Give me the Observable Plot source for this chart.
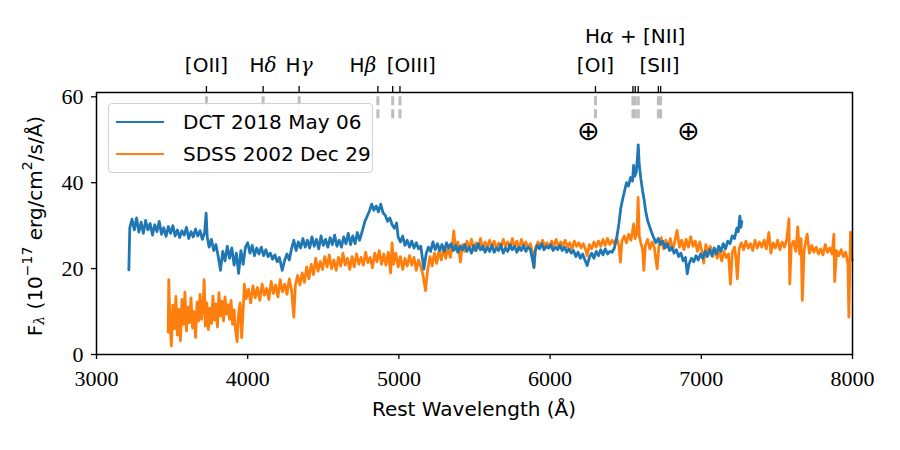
<!DOCTYPE html>
<html>
<head>
<meta charset="utf-8">
<script src="https://cdn.jsdelivr.net/npm/d3@7"></script>
<script src="https://cdn.jsdelivr.net/npm/@observablehq/plot@0.6"></script>
<style>
  html, body { margin: 0; padding: 0; background: #fff; }
  #wrap { position: relative; width: 900px; height: 450px; }
  #legend { position: absolute; left: 108px; top: 103px; width: 263px; height: 68px;
    border: 1px solid #d0d0d0; border-radius: 4px; background: rgba(255,255,255,0.85);
    font-family: "DejaVu Sans", sans-serif; font-size: 20px; color: #000; }
  .entry { position: absolute; left: 0; height: 24px; display: flex; align-items: center; }
  .swatch { width: 48px; height: 2.5px; margin-left: 7px; margin-right: 19px; }
  svg g.serifnums text { font-family: "Liberation Serif", "DejaVu Serif", "Times New Roman", Times, "Noto Serif", serif !important; }
</style>
</head>
<body>
<div id="wrap"></div>
<script>
// ---------- data ----------
const seriesNames = ["DCT 2018 May 06", "SDSS 2002 Dec 29"];
const seriesColors = ["#1f77b4", "#ff7f0e"];

// [rest wavelength (Å), flux (1e-17 erg/cm2/s/Å)]
const dctSpectrum = [
[3214,19.7],[3220,29.5],[3235,31.5],[3250,29.0],[3265,31.8],[3280,28.5],[3295,30.8],[3310,28.2],[3325,31.2],[3340,29.0],
[3355,30.5],[3370,27.8],[3385,30.2],[3400,28.6],[3415,31.0],[3430,28.0],[3445,29.5],[3460,27.5],[3475,29.8],[3490,28.2],
[3505,30.0],[3520,27.6],[3535,29.0],[3550,27.2],[3565,28.8],[3580,27.8],[3595,29.6],[3610,27.0],[3625,28.6],[3640,27.4],
[3655,29.2],[3670,27.6],[3685,28.8],[3700,26.8],[3715,28.4],[3725,32.9],[3732,27.5],[3745,25.0],[3760,26.8],[3775,24.2],
[3790,25.6],[3805,22.8],[3820,19.6],[3835,24.0],[3850,21.8],[3865,25.2],[3880,22.4],[3895,24.8],[3910,20.8],[3925,23.6],
[3940,18.9],[3955,24.2],[3970,21.0],[3985,25.0],[4000,26.0],[4015,23.6],[4030,25.4],[4045,23.0],[4060,24.8],[4075,23.4],
[4090,25.0],[4105,23.0],[4120,24.4],[4135,22.8],[4150,23.6],[4165,22.2],[4180,23.2],[4195,21.6],[4210,22.6],[4228,19.6],
[4245,22.0],[4260,23.4],[4275,22.0],[4290,24.6],[4305,26.6],[4320,24.2],[4335,26.2],[4350,24.8],[4365,27.0],[4380,25.0],
[4395,26.6],[4410,24.8],[4425,27.4],[4440,25.2],[4455,26.8],[4470,24.6],[4485,27.6],[4500,25.4],[4515,26.8],[4530,25.0],
[4545,27.2],[4560,25.6],[4575,27.8],[4590,25.2],[4605,26.6],[4620,25.0],[4635,27.4],[4650,25.8],[4665,28.2],[4680,25.6],
[4695,27.6],[4710,25.8],[4725,28.4],[4740,26.6],[4760,29.0],[4775,31.0],[4790,32.2],[4805,33.4],[4820,35.0],[4835,33.6],
[4850,34.6],[4865,33.2],[4880,35.0],[4895,33.0],[4910,32.4],[4925,31.0],[4940,31.8],[4955,30.2],[4970,29.4],[4985,30.6],
[4995,27.4],[5010,26.2],[5025,27.6],[5040,25.4],[5055,26.6],[5070,25.0],[5085,26.4],[5100,24.8],[5115,26.0],[5130,24.6],
[5145,25.2],[5165,19.9],[5180,23.4],[5195,25.0],[5210,24.0],[5225,26.2],[5240,24.4],[5255,25.8],[5270,24.2],[5285,25.6],
[5300,24.0],[5315,26.0],[5330,24.8],[5345,25.8],[5360,24.2],[5375,25.4],[5390,23.8],[5405,25.2],[5420,24.4],[5435,25.6],
[5450,24.0],[5465,25.0],[5480,23.6],[5495,25.4],[5510,24.2],[5525,25.8],[5540,24.4],[5555,25.2],[5570,23.8],[5585,25.0],
[5600,24.0],[5615,25.4],[5630,23.8],[5645,24.8],[5660,24.2],[5675,25.6],[5690,23.6],[5705,24.8],[5720,24.0],[5735,25.6],
[5750,24.4],[5765,25.2],[5780,23.8],[5795,25.0],[5810,24.2],[5825,25.4],[5840,24.0],[5855,25.0],[5870,24.4],[5885,21.8],
[5893,20.3],[5900,24.0],[5915,25.4],[5930,24.6],[5945,25.8],[5960,24.4],[5975,25.2],[5990,24.8],[6005,25.6],[6020,24.2],
[6035,25.0],[6050,24.4],[6065,25.4],[6080,24.2],[6095,25.0],[6110,23.8],[6125,24.6],[6140,23.6],[6155,24.2],[6170,22.8],
[6185,23.8],[6200,22.4],[6215,23.4],[6230,22.0],[6245,20.7],[6260,22.6],[6275,23.6],[6290,22.4],[6305,24.0],[6320,23.0],
[6335,24.4],[6350,23.2],[6365,24.6],[6380,23.4],[6395,24.0],[6410,23.8],[6425,24.8],[6440,27.0],[6455,30.4],[6467,34.0],
[6480,36.2],[6492,38.0],[6505,40.0],[6518,39.2],[6532,41.2],[6545,40.4],[6552,44.0],[6560,41.5],[6570,42.5],[6578,46.0],
[6583,48.8],[6590,44.0],[6600,41.0],[6612,38.0],[6622,36.0],[6632,33.4],[6645,31.2],[6658,29.8],[6670,28.6],[6685,27.2],
[6700,26.0],[6715,27.0],[6730,25.6],[6745,26.4],[6760,24.8],[6775,25.8],[6790,24.2],[6805,25.0],[6820,23.6],[6835,24.4],
[6850,22.8],[6865,23.6],[6880,21.8],[6895,22.6],[6907,18.8],[6920,21.2],[6935,22.4],[6950,21.6],[6965,23.0],[6980,22.0],
[6995,23.4],[7010,22.4],[7025,24.0],[7040,22.8],[7055,24.4],[7070,23.0],[7085,24.8],[7100,23.4],[7115,25.2],[7130,24.0],
[7145,25.8],[7160,24.6],[7175,26.4],[7190,25.8],[7205,27.6],[7220,27.0],[7235,29.4],[7245,28.6],[7255,32.2],[7262,29.6],
[7268,31.0]
];

const sdssSpectrum = [
[3474,5.2],[3478,17.4],[3485,8.0],[3495,2.0],[3505,11.5],[3515,6.0],[3525,13.5],[3535,4.5],[3545,10.5],[3555,3.2],
[3565,12.8],[3575,7.0],[3585,14.5],[3595,5.5],[3605,11.0],[3615,7.4],[3625,13.2],[3635,6.2],[3645,10.0],[3655,4.0],
[3665,12.2],[3675,7.8],[3685,14.0],[3695,8.2],[3705,11.6],[3712,17.4],[3720,6.6],[3730,12.0],[3740,5.8],[3750,10.8],
[3760,7.2],[3770,13.6],[3780,8.0],[3790,11.8],[3800,6.4],[3810,14.4],[3820,9.0],[3830,12.4],[3840,7.8],[3850,13.4],
[3860,9.4],[3870,11.6],[3880,8.2],[3890,12.6],[3900,7.0],[3910,10.4],[3920,5.6],[3930,3.0],[3940,9.6],[3950,12.0],
[3960,3.9],[3970,10.5],[3978,16.4],[3990,13.0],[4005,15.2],[4020,12.0],[4035,16.0],[4050,13.2],[4065,15.6],[4080,12.6],
[4095,16.4],[4110,13.8],[4125,15.4],[4140,12.8],[4155,17.0],[4170,14.2],[4185,16.2],[4200,13.4],[4215,17.4],[4230,14.6],
[4245,16.4],[4260,14.0],[4275,17.6],[4290,15.0],[4305,8.7],[4315,16.0],[4330,18.4],[4345,16.2],[4360,19.0],[4375,16.8],
[4390,20.4],[4405,17.6],[4420,21.0],[4435,18.6],[4450,22.4],[4465,19.4],[4480,21.6],[4495,19.8],[4510,22.8],[4525,20.4],
[4540,23.2],[4555,20.0],[4570,22.0],[4585,19.6],[4600,22.6],[4615,20.6],[4630,23.6],[4645,20.8],[4660,22.4],[4675,19.8],
[4690,22.8],[4705,20.4],[4720,23.4],[4735,21.0],[4750,22.6],[4765,20.8],[4780,23.8],[4795,21.4],[4810,22.6],[4825,20.2],
[4840,23.6],[4855,21.6],[4870,24.2],[4885,21.0],[4900,23.4],[4915,20.8],[4930,23.8],[4945,19.0],[4955,26.0],[4965,21.0],
[4980,23.6],[4995,20.4],[5010,22.8],[5025,19.8],[5040,22.4],[5055,20.6],[5070,23.0],[5085,20.8],[5100,22.6],[5115,19.6],
[5130,22.0],[5145,20.4],[5160,18.4],[5176,14.9],[5190,19.6],[5205,22.8],[5220,20.6],[5235,23.6],[5250,21.2],[5265,24.2],
[5280,22.0],[5295,24.6],[5310,22.4],[5325,25.0],[5340,22.6],[5355,26.0],[5363,28.8],[5375,24.4],[5390,26.2],[5407,21.5],
[5420,25.6],[5435,24.0],[5450,26.4],[5465,24.6],[5480,26.8],[5495,24.2],[5510,26.0],[5525,24.8],[5540,27.0],[5555,24.4],
[5570,26.2],[5585,24.8],[5600,26.6],[5615,25.0],[5630,26.4],[5645,24.6],[5660,26.0],[5675,24.8],[5690,26.8],[5705,25.2],
[5720,26.2],[5735,24.6],[5750,27.0],[5765,25.0],[5780,26.4],[5795,24.4],[5810,26.8],[5825,25.2],[5840,26.2],[5855,24.8],
[5870,25.8],[5885,23.4],[5893,20.2],[5905,25.0],[5920,26.2],[5935,25.0],[5950,26.6],[5965,25.2],[5980,26.0],[5995,24.8],
[6010,26.4],[6025,25.4],[6040,26.8],[6055,25.0],[6070,26.2],[6085,25.4],[6100,26.6],[6115,25.0],[6130,26.0],[6145,24.6],
[6160,26.4],[6175,25.2],[6190,26.0],[6205,24.8],[6220,25.8],[6235,24.4],[6245,23.0],[6260,25.6],[6275,24.6],[6290,26.2],
[6305,25.0],[6320,26.4],[6335,25.2],[6350,26.8],[6365,25.4],[6380,27.0],[6395,25.6],[6410,26.6],[6425,25.8],[6440,27.2],
[6455,25.4],[6465,21.5],[6475,26.4],[6490,27.6],[6505,26.0],[6520,28.0],[6535,26.6],[6553,30.4],[6562,27.0],[6575,28.4],
[6582,36.6],[6590,27.6],[6600,26.0],[6612,24.4],[6620,19.6],[6630,25.4],[6645,26.8],[6660,24.6],[6675,26.2],[6690,24.8],
[6700,22.0],[6708,20.0],[6720,25.4],[6735,27.2],[6750,24.6],[6765,26.6],[6780,25.0],[6795,27.0],[6810,24.2],[6825,26.4],
[6840,28.9],[6855,25.0],[6870,26.6],[6885,24.4],[6900,26.8],[6915,25.0],[6930,27.4],[6945,25.2],[6960,26.4],[6975,24.0],
[6990,26.2],[7005,23.8],[7016,21.3],[7030,25.6],[7045,23.8],[7060,25.2],[7075,22.8],[7090,24.6],[7105,22.4],[7120,24.2],
[7135,21.8],[7150,24.0],[7165,22.6],[7180,23.4],[7193,16.4],[7205,23.8],[7220,25.0],[7230,22.0],[7238,17.6],[7250,24.6],
[7265,26.0],[7280,24.4],[7295,26.4],[7310,24.8],[7325,25.8],[7340,24.2],[7355,26.6],[7370,24.8],[7385,26.2],[7400,25.0],
[7415,26.6],[7430,24.6],[7447,28.4],[7460,23.6],[7475,26.0],[7490,24.8],[7505,26.6],[7520,24.4],[7535,26.2],[7550,25.0],
[7565,26.8],[7580,31.6],[7585,16.4],[7595,25.2],[7610,26.4],[7625,24.0],[7638,29.7],[7650,23.4],[7660,27.0],[7668,12.6],
[7680,24.2],[7700,28.0],[7715,23.6],[7730,25.4],[7745,23.8],[7760,25.0],[7775,23.4],[7790,24.6],[7805,23.2],[7820,25.6],
[7835,23.8],[7850,24.8],[7865,23.4],[7877,28.0],[7882,17.0],[7895,24.2],[7910,23.0],[7925,24.4],[7940,22.8],[7955,23.8],
[7970,21.0],[7976,8.7],[7982,20.0],[7987,28.5],[7995,22.0],[8000,22.0]
];

// emission lines (rest wavelengths, Å)
const lineWaves = [3727, 4102, 4340, 4861, 4959, 5007, 6300, 6548, 6563, 6583, 6716, 6731];
const lineLabels = ["[OII]", "Hδ", "Hγ", "Hβ", "[OIII]", "[OI]", "[SII]", "Hα + [NII]"];
const lineLabelWaves = [3727, 4102, 4340, 4861, 4983, 6300, 6724, 6563];
const lineLabelShift = [0, 0, 0, -15, 15, 0, 0, 0];
const lineLabelRow = [1, 1, 1, 1, 1, 1, 1, 2];
// telluric bands in rest frame
const telluricWaves = [6254, 6916];

const xTicks = [3000, 4000, 5000, 6000, 7000, 8000];
const yTicks = [0, 20, 40, 60];
const xDomain = [3000, 8000];
const yDomain = [0, 61];

// ---------- chart ----------
const labelTable = lineLabels.map((t, i) => ({t, w: lineLabelWaves[i], row: lineLabelRow[i]}));
const sans = "DejaVu Sans, sans-serif";
const serif = "Liberation Serif, DejaVu Serif, serif";

const plot = Plot.plot({
  width: 900, height: 450,
  marginLeft: 96, marginRight: 48, marginTop: 92, marginBottom: 96,
  x: {domain: xDomain},
  y: {domain: yDomain},
  style: {background: "#fff", color: "#000"},
  marks: [
    Plot.ruleX(lineWaves, {x: d => d, y1: yDomain[1] * 0.9, y2: yDomain[1],
      stroke: "#bdbdbd", strokeWidth: 3, strokeDasharray: "9,4"}),
    Plot.line(sdssSpectrum, {stroke: seriesColors[1], strokeWidth: 2.8, strokeLinejoin: "round"}),
    Plot.line(dctSpectrum, {stroke: seriesColors[0], strokeWidth: 2.8, strokeLinejoin: "round"}),
    Plot.frame({stroke: "#000", strokeWidth: 1.5}),
    Plot.axisX({ticks: xTicks, tickFormat: () => "", tickSize: 5, label: null, strokeWidth: 1.3}),
    Plot.axisX({anchor: "top", ticks: lineWaves, tickFormat: () => "", tickSize: 7, label: null, strokeWidth: 1.3}),
    Plot.axisY({ticks: yTicks, tickFormat: () => "", tickSize: 5, label: null, strokeWidth: 1.3}),
    Plot.text(xTicks, {x: d => d, text: d => String(d), frameAnchor: "bottom", lineAnchor: "top", dy: 16,
      fontSize: 22, fontFamily: serif, className: "serifnums"}),
    Plot.text(yTicks, {y: d => d, text: d => String(d), frameAnchor: "left", textAnchor: "end", dx: -13,
      fontSize: 22, fontFamily: serif, className: "serifnums"}),
    Plot.text(labelTable.filter(d => d.row === 1), {x: "w", text: "t", frameAnchor: "top", lineAnchor: "middle", dy: -27,
      fontSize: 20, fontFamily: sans}),
    Plot.text(labelTable.filter(d => d.row === 2), {x: "w", text: "t", frameAnchor: "top", lineAnchor: "middle", dy: -56,
      fontSize: 20, fontFamily: sans}),
    Plot.text(telluricWaves, {x: d => d, text: () => "⊕", frameAnchor: "top", lineAnchor: "middle", dy: 39,
      fontSize: 27, fontFamily: sans})
  ]
});

const svg = d3.select(plot);
svg.selectAll("text").each(function() {
  const el = d3.select(this);
  const txt = el.text();
  if (/^\d+$/.test(txt)) {
    this.style.setProperty("font-family", "'Liberation Serif', 'DejaVu Serif', 'Times New Roman', serif", "important");
  }
  const idx = lineLabels.indexOf(txt);
  if (idx >= 0 && lineLabelShift[idx] !== 0) el.attr("dx", lineLabelShift[idx]);
  const m = txt.match(/^H([αβγδ])(.*)$/);
  if (m) {
    el.text(null);
    el.append("tspan").text("H");
    el.append("tspan").attr("font-family", "DejaVu Serif, serif").attr("font-style", "italic").text(m[1]);
    if (m[2]) el.append("tspan").text(m[2]);
  }
});

// axis titles
svg.append("text")
  .attr("x", 474).attr("y", 410)
  .attr("text-anchor", "middle").attr("dominant-baseline", "middle")
  .attr("font-family", sans).attr("font-size", 20)
  .attr("fill", "#000")
  .text("Rest Wavelength (Å)");

const yl = svg.append("text")
  .attr("transform", "translate(36,226) rotate(-90)")
  .attr("text-anchor", "middle").attr("dominant-baseline", "middle")
  .attr("font-family", sans).attr("font-size", 20)
  .attr("fill", "#000");
yl.append("tspan").text("F");
yl.append("tspan").attr("font-size", 14).attr("font-family", "DejaVu Serif, serif").attr("font-style", "italic").attr("dy", 4).text("λ");
yl.append("tspan").attr("dy", -4).text(" (10");
yl.append("tspan").attr("font-size", 14).attr("dy", -8).text("−17");
yl.append("tspan").attr("dy", 8).text(" erg/cm");
yl.append("tspan").attr("font-size", 14).attr("dy", -8).text("2");
yl.append("tspan").attr("dy", 8).text("/s/Å)");

const wrap = document.getElementById("wrap");
wrap.appendChild(plot);

// legend
const legend = document.createElement("div");
legend.id = "legend";
seriesNames.forEach((name, i) => {
  const e = document.createElement("div");
  e.className = "entry";
  e.style.top = (i === 0 ? 6 : 38) + "px";
  const sw = document.createElement("div");
  sw.className = "swatch";
  sw.style.background = seriesColors[i];
  const lab = document.createElement("span");
  lab.textContent = name;
  e.appendChild(sw); e.appendChild(lab);
  legend.appendChild(e);
});
wrap.appendChild(legend);
</script>
</body>
</html>
